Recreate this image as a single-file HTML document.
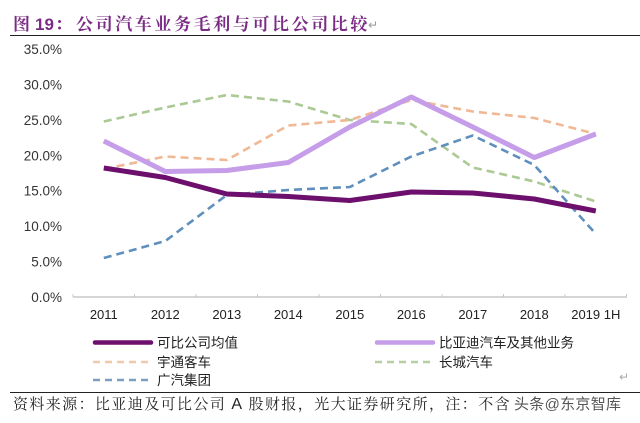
<!DOCTYPE html>
<html><head><meta charset="utf-8">
<style>
html,body{margin:0;padding:0;background:#fff;}
body{width:640px;height:423px;overflow:hidden;}
svg{display:block;}
</style></head>
<body>
<svg width="640" height="423" viewBox="0 0 640 423" xmlns="http://www.w3.org/2000/svg">
<rect width="640" height="423" fill="#fff"/>
<!-- Title -->
<text x="13" y="30" font-family="'Liberation Serif','Noto Serif CJK SC',serif" font-weight="700" font-size="17" fill="#7b2d85">图</text>
<text x="35" y="30" font-family="'Liberation Sans',sans-serif" font-weight="700" font-size="17" fill="#7b2d85">19</text>
<text x="55" y="30" font-family="'Liberation Serif','Noto Serif CJK SC',serif" font-weight="700" font-size="17" fill="#7b2d85">：</text>
<text x="76" y="30" font-family="'Liberation Serif','Noto Serif CJK SC',serif" font-weight="700" font-size="17" letter-spacing="2.6" fill="#7b2d85">公司汽车业务毛利与可比公司比较</text>
<text x="368" y="29" font-family="'DejaVu Sans',sans-serif" font-size="12" fill="#999">↵</text>
<line x1="10" y1="35.5" x2="640" y2="35.5" stroke="#222" stroke-width="1"/>

<!-- Y labels -->
<g font-family="'Liberation Sans',sans-serif" font-size="13.5" fill="#333" text-anchor="end">
<text x="62" y="54">35.0%</text>
<text x="62" y="89.4">30.0%</text>
<text x="62" y="124.9">25.0%</text>
<text x="62" y="160.3">20.0%</text>
<text x="62" y="195.7">15.0%</text>
<text x="62" y="231.1">10.0%</text>
<text x="62" y="266.6">5.0%</text>
<text x="62" y="302">0.0%</text>
</g>

<!-- X axis -->
<line x1="73" y1="297" x2="627" y2="297" stroke="#c8c8c8" stroke-width="1.5"/>
<g stroke="#c8c8c8" stroke-width="1">
<line x1="73" y1="294" x2="73" y2="297"/>
<line x1="134.5" y1="294" x2="134.5" y2="297"/>
<line x1="196" y1="294" x2="196" y2="297"/>
<line x1="257.5" y1="294" x2="257.5" y2="297"/>
<line x1="319" y1="294" x2="319" y2="297"/>
<line x1="380.5" y1="294" x2="380.5" y2="297"/>
<line x1="442" y1="294" x2="442" y2="297"/>
<line x1="503.5" y1="294" x2="503.5" y2="297"/>
<line x1="565" y1="294" x2="565" y2="297"/>
<line x1="626.5" y1="294" x2="626.5" y2="297"/>
</g>
<g font-family="'Liberation Sans',sans-serif" font-size="13" fill="#222" text-anchor="middle">
<text x="103.8" y="319">2011</text>
<text x="165.3" y="319">2012</text>
<text x="226.8" y="319">2013</text>
<text x="288.3" y="319">2014</text>
<text x="349.8" y="319">2015</text>
<text x="411.3" y="319">2016</text>
<text x="472.8" y="319">2017</text>
<text x="534.3" y="319">2018</text>
<text x="595.8" y="319">2019 1H</text>
</g>

<!-- Series -->
<g fill="none" stroke-linejoin="round">
<polyline stroke="#abc994" stroke-width="2.6" stroke-dasharray="8,5" points="103.8,121.5 165.3,107.5 226.8,95 288.3,101.5 349.8,120 411.3,124 472.8,167.5 534.3,181.5 595.8,201.5"/>
<polyline stroke="#f0b894" stroke-width="2.6" stroke-dasharray="8,5" points="103.8,169 165.3,156.5 226.8,160 288.3,125.5 349.8,120 411.3,100 472.8,111.5 534.3,118 595.8,134"/>
<polyline stroke="#5f8fbc" stroke-width="2.6" stroke-dasharray="8,5" points="103.8,258 165.3,241 226.8,195 288.3,190 349.8,187 411.3,156.5 472.8,135.5 534.3,165 595.8,234"/>
<polyline stroke="#c59de9" stroke-width="5" points="103.8,141 165.3,171.5 226.8,170.5 288.3,162.5 349.8,127 411.3,97 472.8,127 534.3,157.5 595.8,134"/>
<polyline stroke="#6d0f6c" stroke-width="5" points="103.8,168 165.3,177.5 226.8,194 288.3,196.5 349.8,200.5 411.3,192 472.8,193 534.3,199 595.8,211"/>
</g>

<!-- Legend -->
<g fill="none">
<line x1="95" y1="342.5" x2="151" y2="342.5" stroke="#6d0f6c" stroke-width="4.5" stroke-linecap="round"/>
<line x1="93" y1="362" x2="152" y2="362" stroke="#f0c8aa" stroke-width="2.6" stroke-dasharray="7,5"/>
<line x1="93" y1="380" x2="152" y2="380" stroke="#7d9fc4" stroke-width="2.6" stroke-dasharray="7,5"/>
<line x1="377" y1="342.5" x2="433" y2="342.5" stroke="#c59de9" stroke-width="4.5" stroke-linecap="round"/>
<line x1="375" y1="362" x2="434" y2="362" stroke="#b5cfa2" stroke-width="2.6" stroke-dasharray="7,5"/>
</g>
<g font-family="'Liberation Sans','Noto Sans CJK SC',sans-serif" font-size="13.5" fill="#222">
<text x="157" y="347.5">可比公司均值</text>
<text x="157" y="367">宇通客车</text>
<text x="157" y="385">广汽集团</text>
<text x="439" y="347.5">比亚迪汽车及其他业务</text>
<text x="439" y="367">长城汽车</text>
</g>
<text x="619" y="381" font-family="'DejaVu Sans',sans-serif" font-size="12" fill="#aaa">↵</text>

<!-- Footer -->
<line x1="10" y1="392.5" x2="640" y2="392.5" stroke="#222" stroke-width="1"/>
<text x="13" y="409" font-family="'Liberation Serif','Noto Serif CJK SC',serif" font-size="15" letter-spacing="1.4" fill="#222">资料来源：比亚迪及可比公司 <tspan font-family="'Liberation Sans',sans-serif" font-size="16">A</tspan> 股财报，光大证券研究所，注：不含</text>
<text x="514" y="409" font-family="'Liberation Sans','Noto Sans CJK SC',sans-serif" font-size="15" letter-spacing="0.3" fill="#555">头条@东京智库</text>
</svg>
</body></html>
